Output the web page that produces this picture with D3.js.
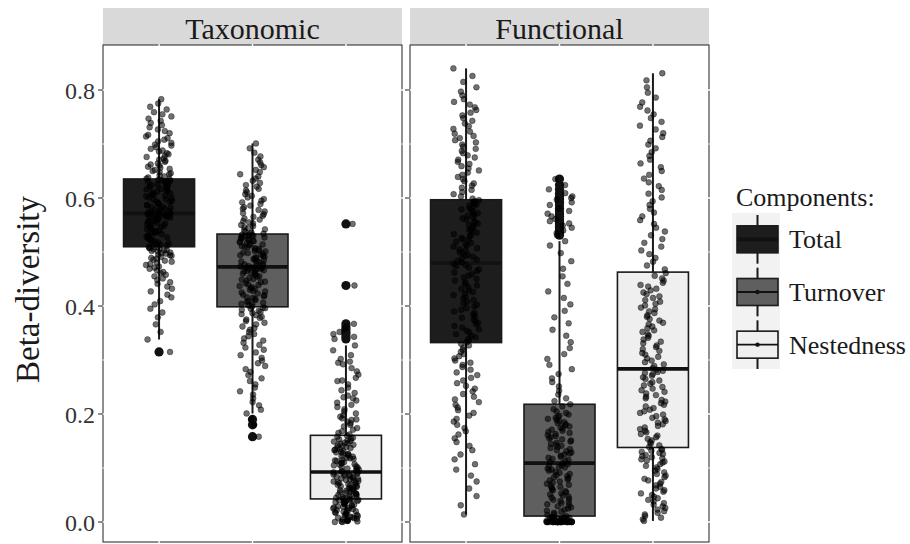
<!DOCTYPE html>
<html>
<head>
<meta charset="utf-8">
<script src="https://cdn.jsdelivr.net/npm/d3@7"></script>
<style>
  body { margin: 0; background: #fff; }
  text { font-family: "Liberation Serif", "Times New Roman", serif; }
</style>
</head>
<body>
<div id="chart"></div>
<script>
(function() {

  // -----------------------------
  // 1. DATA
  // -----------------------------
  const facets = ["Taxonomic", "Functional"];
  const comps = ["Total", "Turnover", "Nestedness"];
  const yTicks = [0, 0.2, 0.4, 0.6, 0.8];
  const yMinor = [0.1, 0.3, 0.5, 0.7];

  // beta-diversity values per site pair
  const taxTotal = [
    .315,.338,.352,.366,.379,.388,.395,.403,.409,.416,.421,.427,.432,.436,.441,.444,.448,.451,.455,.458,
    .461,.463,.466,.469,.471,.473,.476,.478,.480,.482,.484,.486,.488,.489,.491,.493,.494,.495,.497,.498,
    .499,.501,.502,.503,.504,.505,.506,.507,.508,.509,
    .510,.512,.513,.515,.516,.518,.519,.521,.522,.524,.525,.527,.528,.530,.531,.533,.534,.536,.537,.539,
    .540,.542,.543,.545,.546,.547,.549,.550,.552,.553,.554,.556,.557,.558,.559,.561,.562,.563,.564,.565,
    .566,.567,.567,.568,.569,.569,.570,.570,.571,.571,
    .572,.573,.574,.575,.576,.578,.579,.580,.582,.583,.584,.586,.587,.588,.590,.591,.593,.594,.595,.597,
    .598,.600,.601,.603,.604,.606,.607,.609,.610,.612,.613,.615,.616,.617,.619,.620,.621,.623,.624,.625,
    .626,.627,.628,.629,.630,.631,.632,.633,.634,.635,
    .636,.638,.640,.642,.644,.646,.648,.650,.652,.654,.656,.658,.660,.662,.664,.667,.669,.671,.673,.676,
    .678,.681,.683,.686,.688,.691,.694,.697,.699,.702,.705,.708,.711,.714,.717,.720,.724,.727,.731,.735,
    .739,.743,.747,.751,.755,.759,.764,.769,.775,.783
  ];
  const taxTurnover = [
    .158,.180,.190,.201,.208,.216,.222,.229,.236,.242,.249,.255,.261,.266,.272,.278,.283,.289,.294,.299,
    .304,.309,.314,.319,.323,.328,.332,.336,.340,.344,.348,.352,.356,.359,.362,.366,.369,.372,.375,.378,
    .380,.383,.385,.387,.389,.391,.393,.395,.396,.397,
    .399,.401,.403,.404,.406,.408,.409,.411,.413,.415,.416,.418,.420,.421,.423,.425,.427,.428,.430,.432,
    .433,.435,.437,.439,.440,.442,.444,.445,.447,.449,.450,.452,.454,.455,.457,.459,.460,.461,.462,.464,
    .465,.466,.467,.468,.469,.469,.470,.471,.471,.472,
    .473,.474,.475,.477,.478,.479,.481,.482,.483,.485,.486,.487,.489,.490,.491,.493,.494,.495,.497,.498,
    .499,.501,.502,.503,.505,.506,.507,.509,.510,.511,.513,.514,.515,.517,.518,.519,.520,.521,.522,.524,
    .525,.526,.527,.528,.529,.530,.531,.531,.532,.533,
    .534,.536,.538,.540,.542,.544,.546,.548,.550,.553,.555,.557,.560,.562,.565,.567,.570,.572,.575,.578,
    .580,.583,.586,.589,.592,.595,.598,.601,.604,.607,.611,.614,.617,.621,.624,.628,.632,.636,.640,.644,
    .648,.652,.657,.661,.666,.671,.677,.684,.692,.701
  ];
  const taxNested = [
    .000,.000,.001,.001,.002,.002,.003,.004,.004,.005,.006,.007,.008,.009,.010,.011,.012,.013,.014,.015,
    .016,.017,.018,.019,.020,.021,.022,.023,.024,.025,.026,.027,.028,.029,.030,.031,.032,.033,.034,.035,
    .036,.037,.038,.039,.039,.040,.041,.041,.042,.042,
    .043,.044,.045,.046,.047,.048,.049,.050,.051,.052,.053,.054,.055,.056,.057,.058,.059,.060,.061,.062,
    .063,.064,.065,.066,.067,.068,.069,.070,.071,.072,.073,.074,.075,.076,.077,.078,.079,.080,.081,.082,
    .083,.084,.085,.086,.087,.088,.089,.090,.091,.092,
    .093,.094,.095,.097,.098,.099,.101,.102,.103,.105,.106,.107,.109,.110,.111,.113,.114,.115,.117,.118,
    .119,.121,.122,.123,.125,.126,.127,.129,.130,.131,.133,.134,.135,.137,.138,.139,.141,.142,.143,.145,
    .146,.147,.149,.150,.151,.153,.154,.156,.158,.160,
    .162,.165,.168,.171,.174,.177,.180,.183,.186,.189,.190,.192,.195,.198,.201,.205,.209,.213,.217,.221,
    .225,.229,.231,.234,.239,.244,.249,.255,.261,.262,.267,.273,.279,.285,.292,.295,.297,.302,.309,.318,
    .327,.339,.343,.348,.352,.357,.362,.367,.438,.552
  ];
  const funTotal = [
    .014,.031,.048,.062,.075,.086,.097,.107,.116,.125,.133,.141,.148,.155,.162,.168,.174,.180,.186,.191,
    .197,.202,.207,.212,.217,.222,.227,.232,.237,.242,.247,.252,.257,.262,.267,.272,.277,.282,.287,.291,
    .295,.299,.303,.307,.311,.315,.319,.323,.327,.330,
    .333,.336,.339,.342,.345,.348,.351,.354,.357,.360,.363,.366,.369,.372,.375,.378,.381,.384,.387,.390,
    .393,.396,.399,.402,.405,.408,.411,.414,.417,.420,.423,.426,.429,.432,.435,.438,.441,.444,.447,.450,
    .453,.456,.459,.462,.465,.468,.471,.474,.476,.478,
    .481,.483,.486,.488,.491,.493,.495,.498,.500,.503,.505,.507,.510,.512,.514,.517,.519,.522,.524,.526,
    .529,.531,.533,.536,.538,.541,.543,.545,.548,.550,.553,.555,.557,.560,.562,.565,.567,.569,.572,.574,
    .577,.579,.581,.584,.586,.588,.590,.592,.594,.596,
    .599,.603,.607,.611,.615,.619,.623,.627,.631,.635,.639,.643,.647,.651,.655,.659,.663,.667,.671,.675,
    .679,.683,.687,.691,.695,.699,.703,.707,.711,.715,.719,.723,.728,.733,.738,.743,.748,.753,.758,.763,
    .768,.773,.778,.783,.790,.797,.805,.815,.826,.840
  ];
  const funTurnover = [
    .000,.000,.000,.000,.000,.000,.000,.000,.000,.000,.000,.000,.000,.000,.000,.000,.000,.000,.000,.000,
    .000,.000,.000,.000,.000,.000,.000,.000,.000,.000,.001,.001,.002,.002,.003,.003,.004,.004,.005,.005,
    .006,.006,.007,.007,.008,.008,.008,.009,.009,.009,
    .011,.013,.015,.017,.019,.021,.023,.025,.027,.029,.031,.033,.035,.037,.039,.041,.043,.045,.047,.049,
    .051,.053,.055,.057,.059,.061,.063,.065,.067,.069,.071,.073,.075,.077,.079,.081,.083,.085,.087,.089,
    .091,.093,.095,.097,.099,.101,.102,.104,.105,.107,
    .109,.111,.113,.115,.117,.119,.121,.123,.125,.127,.129,.131,.133,.135,.137,.139,.141,.143,.145,.147,
    .149,.151,.153,.155,.157,.159,.161,.163,.165,.167,.169,.171,.173,.175,.177,.179,.181,.183,.185,.187,
    .189,.191,.193,.195,.197,.199,.202,.205,.209,.214,
    .218,.224,.229,.236,.243,.251,.259,.266,.274,.283,.291,.302,.311,.322,.333,.345,.356,.368,.379,.391,
    .403,.415,.427,.441,.455,.469,.483,.498,.512,.520,.531,.535,.540,.545,.549,.553,.557,.561,.566,.571,
    .576,.581,.587,.592,.597,.600,.603,.609,.616,.624,.635
  ];
  const funNested = [
    .002,.005,.008,.011,.014,.017,.020,.023,.026,.029,.032,.035,.038,.041,.044,.047,.050,.053,.056,.059,
    .062,.065,.068,.071,.074,.077,.080,.083,.086,.089,.092,.095,.098,.101,.104,.107,.110,.112,.114,.116,
    .118,.120,.122,.124,.126,.128,.130,.132,.134,.135,
    .139,.142,.145,.148,.151,.154,.157,.160,.163,.166,.169,.172,.175,.178,.181,.184,.187,.190,.193,.196,
    .199,.202,.205,.208,.211,.214,.217,.220,.223,.226,.229,.232,.235,.238,.241,.244,.247,.250,.253,.256,
    .259,.262,.265,.268,.271,.274,.276,.278,.280,.282,
    .285,.289,.292,.296,.299,.303,.306,.310,.313,.317,.320,.324,.327,.331,.334,.338,.341,.345,.348,.352,
    .355,.359,.362,.366,.369,.373,.376,.380,.383,.387,.390,.394,.397,.401,.404,.408,.411,.415,.418,.422,
    .425,.429,.432,.436,.439,.443,.447,.451,.456,.461,
    .468,.475,.482,.489,.496,.503,.510,.517,.524,.531,.538,.545,.552,.559,.566,.573,.580,.587,.594,.601,
    .608,.615,.622,.629,.636,.643,.650,.657,.664,.671,.678,.685,.692,.699,.706,.713,.720,.727,.734,.741,
    .748,.755,.762,.769,.777,.786,.795,.805,.818,.831
  ];

  const groups = [
    {facet: "Taxonomic", comp: "Total", values: taxTotal},
    {facet: "Taxonomic", comp: "Turnover", values: taxTurnover},
    {facet: "Taxonomic", comp: "Nestedness", values: taxNested},
    {facet: "Functional", comp: "Total", values: funTotal},
    {facet: "Functional", comp: "Turnover", values: funTurnover},
    {facet: "Functional", comp: "Nestedness", values: funNested}
  ];

  // -----------------------------
  // 2. SVG SETUP
  // -----------------------------
  const width = 910, height = 544;
  const panelTop = 45, panelBottom = 542;
  const fill = d3.scaleOrdinal().domain(comps).range(["#1d1d1d", "#5f5f5f", "#efefef"]);
  const ink = "#1a1a1a";

  const svg = d3.select("#chart").append("svg")
      .attr("width", width)
      .attr("height", height);

  const fx = d3.scaleBand().domain(facets).range([103, 709]).paddingInner(8 / 307);
  const pw = fx.bandwidth();
  const x = d3.scalePoint().domain(comps).range([0, pw]).padding(0.6);
  const boxW = x.step() * 0.76;
  const y = d3.scaleLinear().domain([0, 0.8]).range([522, 90]);

  // horizontal jitter: a fixed hash of the point index (position only, not data)
  const jitter = (i, k) => {
    const s = Math.sin((i + 1) * 12.9898 + k * 78.233) * 43758.5453;
    return (s - Math.floor(s)) - 0.5;
  };

  // box statistics (ggplot style, type 7 quantiles)
  groups.forEach(g => {
    const v = g.values.slice().sort(d3.ascending);
    g.q1 = d3.quantile(v, 0.25);
    g.med = d3.quantile(v, 0.5);
    g.q3 = d3.quantile(v, 0.75);
    const iqr = g.q3 - g.q1;
    const lo = g.q1 - 1.5 * iqr, hi = g.q3 + 1.5 * iqr;
    g.wlo = d3.min(v.filter(d => d >= lo));
    g.whi = d3.max(v.filter(d => d <= hi));
    g.out = v.filter(d => d < lo || d > hi);
  });

  // -----------------------------
  // 3. PANELS
  // -----------------------------
  facets.forEach((f, fi) => {
    const p = svg.append("g").attr("transform", `translate(${fx(f)},0)`);

    // strip
    p.append("rect")
        .attr("x", 0).attr("y", 8)
        .attr("width", pw).attr("height", panelTop - 8)
        .attr("fill", "#d9d9d9");
    p.append("text")
        .attr("x", pw / 2).attr("y", 38.5)
        .attr("text-anchor", "middle")
        .attr("font-size", 30)
        .attr("fill", ink)
        .text(f);

    // border
    p.append("rect")
        .attr("x", 0).attr("y", panelTop)
        .attr("width", pw).attr("height", panelBottom - panelTop)
        .attr("fill", "#fff")
        .attr("stroke", "#333").attr("stroke-width", 1.1);

    // white grid (only visible where it cuts the border)
    p.selectAll(".gy").data(yTicks.concat(yMinor)).enter().append("line")
        .attr("x1", -1).attr("x2", pw + 1)
        .attr("y1", d => y(d)).attr("y2", d => y(d))
        .attr("stroke", "#fff")
        .attr("stroke-width", d => yTicks.includes(d) ? 1.4 : 0.8);
    p.selectAll(".gx").data(comps).enter().append("line")
        .attr("x1", d => x(d)).attr("x2", d => x(d))
        .attr("y1", panelTop - 1).attr("y2", panelBottom + 1)
        .attr("stroke", "#fff").attr("stroke-width", 1.4);

    // y ticks
    p.selectAll(".tk").data(yTicks).enter().append("line")
        .attr("x1", -5).attr("x2", 0)
        .attr("y1", d => y(d)).attr("y2", d => y(d))
        .attr("stroke", "#333").attr("stroke-width", 1.1);

    if (fi === 0) {
      p.selectAll(".tl").data(yTicks).enter().append("text")
          .attr("x", -8)
          .attr("y", d => y(d) + 9)
          .attr("text-anchor", "end")
          .attr("font-size", 24)
          .attr("fill", "#333")
          .text(d3.format(".1f"));
    }

    const gs = groups.filter(g => g.facet === f);

    // boxplots
    gs.forEach(g => {
      const cx = x(g.comp);
      p.append("line")
          .attr("x1", cx).attr("x2", cx)
          .attr("y1", y(g.q3)).attr("y2", y(g.whi))
          .attr("stroke", ink).attr("stroke-width", 2);
      p.append("line")
          .attr("x1", cx).attr("x2", cx)
          .attr("y1", y(g.q1)).attr("y2", y(g.wlo))
          .attr("stroke", ink).attr("stroke-width", 2);
      p.append("rect")
          .attr("x", cx - boxW / 2).attr("width", boxW)
          .attr("y", y(g.q3)).attr("height", y(g.q1) - y(g.q3))
          .attr("fill", fill(g.comp))
          .attr("stroke", ink).attr("stroke-width", 1.6);
      p.append("line")
          .attr("x1", cx - boxW / 2).attr("x2", cx + boxW / 2)
          .attr("y1", y(g.med)).attr("y2", y(g.med))
          .attr("stroke", "#111").attr("stroke-width", 3.6);
      p.selectAll(null).data(g.out).enter().append("circle")
          .attr("cx", cx).attr("cy", d => y(d))
          .attr("r", 4.6)
          .attr("fill", "#111");
    });

    // jittered points
    gs.forEach((g, gi) => {
      const cx = x(g.comp);
      p.selectAll(null).data(g.values).enter().append("circle")
          .attr("cx", (d, i) => cx + jitter(i, fi * 3 + gi) * 26)
          .attr("cy", d => y(d))
          .attr("r", 2.9)
          .attr("fill", "#000").attr("fill-opacity", 0.56)
          .attr("stroke", "#000").attr("stroke-opacity", 0.6).attr("stroke-width", 0.6);
    });
  });

  // -----------------------------
  // 4. AXIS TITLE
  // -----------------------------
  svg.append("text")
      .attr("transform", `translate(39,${(panelTop + panelBottom) / 2 - 4}) rotate(-90)`)
      .attr("text-anchor", "middle")
      .attr("font-size", 33)
      .attr("fill", ink)
      .text("Beta-diversity");

  // -----------------------------
  // 5. LEGEND
  // -----------------------------
  const lg = svg.append("g");
  const ky = d3.scaleBand().domain(comps).range([213, 371]);
  const kx = 757.5, kw = 41, kh = 27;

  lg.append("text")
      .attr("x", 736).attr("y", 206)
      .attr("font-size", 26)
      .attr("fill", ink)
      .text("Components:");

  lg.append("rect")
      .attr("x", 732).attr("y", 213)
      .attr("width", 48).attr("height", 156)
      .attr("fill", "#f2f2f2");

  comps.forEach(c => {
    const cy = ky(c) + ky.bandwidth() / 2;
    lg.append("line")
        .attr("x1", kx).attr("x2", kx)
        .attr("y1", ky(c) + 2).attr("y2", ky(c) + ky.bandwidth() - 2)
        .attr("stroke", ink).attr("stroke-width", 2);
    lg.append("rect")
        .attr("x", kx - kw / 2).attr("y", cy - kh / 2)
        .attr("width", kw).attr("height", kh)
        .attr("fill", fill(c))
        .attr("stroke", ink).attr("stroke-width", 1.6);
    lg.append("line")
        .attr("x1", kx - kw / 2).attr("x2", kx + kw / 2)
        .attr("y1", cy).attr("y2", cy)
        .attr("stroke", "#111").attr("stroke-width", c === "Total" ? 3.6 : 1.8);
    lg.append("circle")
        .attr("cx", kx).attr("cy", cy).attr("r", 2.2)
        .attr("fill", "#111");
    lg.append("text")
        .attr("x", 789).attr("y", cy + 9)
        .attr("font-size", 26)
        .attr("fill", ink)
        .text(c);
  });

})();
</script>
</body>
</html>
